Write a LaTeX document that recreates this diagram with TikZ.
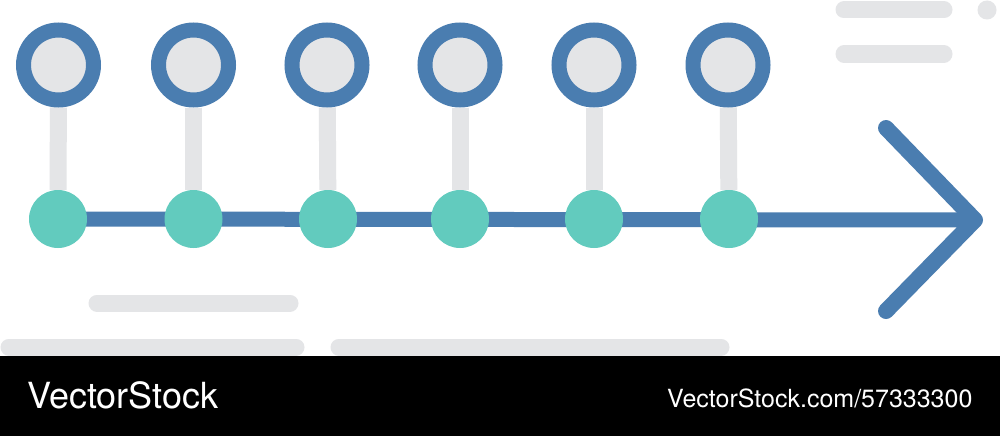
\documentclass[tikz,border=0pt]{standalone}
\usepackage{fontspec}
\newfontfamily\vsfont{TeX Gyre Heros}
\usetikzlibrary{backgrounds}
\definecolor{tlblue}{RGB}{74,125,176}
\definecolor{tlgreen}{RGB}{98,203,190}
\definecolor{tlgrey}{RGB}{228,229,231}
\tikzset{
  ring/.style={circle,draw=tlblue,line width=15pt,fill=tlgrey,inner sep=0pt,minimum size=70pt},
  dot/.style={circle,fill=tlgreen,inner sep=0pt,minimum size=58pt},
  stem/.style={draw=tlgrey,line width=17pt},
  axis/.style={draw=tlblue,line width=15pt},
  head/.style={draw=tlblue,line width=16pt,line cap=round,line join=round},
  bar/.style={draw=tlgrey,line width=17pt,line cap=round},
  band/.style={fill=black},
  wtext/.style={text=white,font=\vsfont,inner sep=0pt,anchor=base west}
}
\begin{document}
\begin{tikzpicture}[x=1pt,y=-1pt]
\useasboundingbox (0,0) rectangle (1000,436);
% top rings
\node[ring] (t1) at (58.5,65) {};
\node[ring] (t2) at (193.5,65) {};
\node[ring] (t3) at (327,65) {};
\node[ring] (t4) at (460,65) {};
\node[ring] (t5) at (594,65) {};
\node[ring] (t6) at (728,65) {};
% green dots
\node[dot] (g1) at (58,219) {};
\node[dot] (g2) at (193.5,219) {};
\node[dot] (g3) at (328,219) {};
\node[dot] (g4) at (460,219) {};
\node[dot] (g5) at (594,219) {};
\node[dot] (g6) at (729,219) {};
% arrow head points
\coordinate (tip) at (975,220);
\coordinate (a1) at (886,128);
\coordinate (a2) at (886,311);
\draw[head] (a1) -- (tip) -- (a2);
% decorative bars
\coordinate (b1s) at (844,10); \coordinate (b1e) at (944,10);
\coordinate (b2s) at (844,54); \coordinate (b2e) at (944,54);
\coordinate (b3s) at (97,303); \coordinate (b3e) at (290,303);
\coordinate (b4s) at (9,347); \coordinate (b4e) at (296,347);
\coordinate (b5s) at (339,347); \coordinate (b5e) at (721,347);
\begin{scope}[on background layer]
\fill[white] (0,0) rectangle (1000,436);
\draw[bar] (b1s) -- (b1e);
\draw[bar] (b2s) -- (b2e);
\draw[bar] (b3s) -- (b3e);
\draw[bar] (b4s) -- (b4e);
\draw[bar] (b5s) -- (b5e);
\foreach \i in {1,...,6} {\draw[stem] (t\i) -- (g\i);}
\draw[axis] (g1.center) -- (tip);
\end{scope}
\fill[tlgrey] (987,10) circle (9.5);
% black band
\fill[band] (0,356) rectangle (1000,436);
\node[wtext,font=\vsfont\fontsize{36}{36}\selectfont] (l1) at (27,408) {VectorStock};
\node[wtext,font=\vsfont\fontsize{25}{25}\selectfont] (l2) at (667,407) {VectorStock.com/57333300};
\end{tikzpicture}
\end{document}
